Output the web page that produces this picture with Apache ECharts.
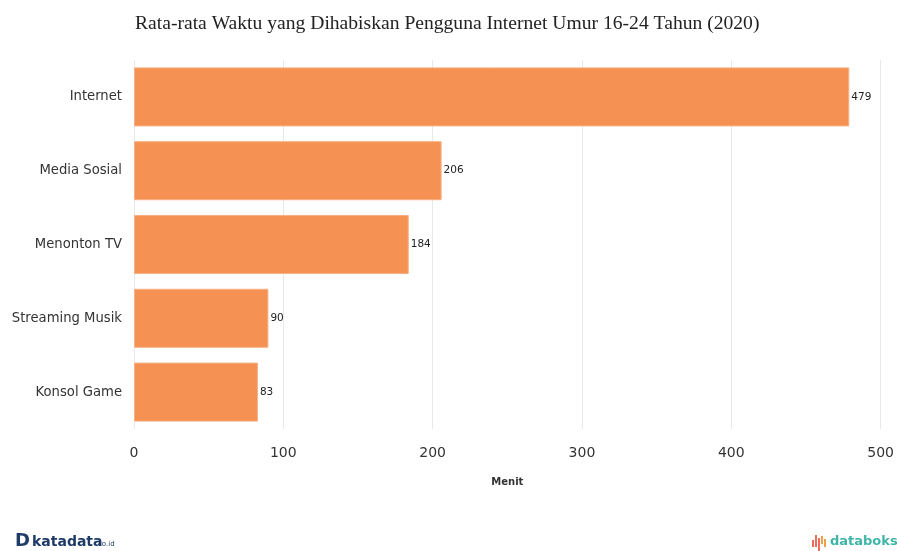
<!DOCTYPE html>
<html><head><meta charset="utf-8">
<script src="https://cdn.jsdelivr.net/npm/echarts@6/dist/echarts.min.js"></script>
<style>html,body{margin:0;padding:0;background:#fff}#c{width:897px;height:551px}</style>
</head><body><div id="c"></div>
<script>
const categories = ["Internet", "Media Sosial", "Menonton TV", "Streaming Musik", "Konsol Game"];
const values = [479, 206, 184, 90, 83];
const xTicks = [0, 100, 200, 300, 400, 500];

const chart = echarts.init(document.getElementById('c'));
chart.setOption({
  animation: false,
  backgroundColor: '#fff',
  title: {
    text: 'Rata-rata Waktu yang Dihabiskan Pengguna Internet Umur 16-24 Tahun (2020)',
    left: 130, top: 9,
    textStyle: { fontFamily: 'Liberation Serif', fontWeight: 'normal', fontSize: 19.6, color: '#222' }
  },
  grid: { left: 134, right: 14, top: 60, bottom: 122, containLabel: false },
  xAxis: {
    type: 'value', min: xTicks[0], max: xTicks[xTicks.length - 1], interval: 100,
    name: 'Menit', nameLocation: 'middle', nameGap: 48,
    nameTextStyle: { fontFamily: 'DejaVu Sans', fontWeight: 'bold', fontSize: 10, color: '#333' },
    axisLine: { show: false }, axisTick: { show: false },
    axisLabel: { fontFamily: 'DejaVu Sans', fontSize: 14, color: '#333', margin: 17 },
    splitLine: { show: true, lineStyle: { color: '#e8e8e8', width: 1 } }
  },
  yAxis: {
    type: 'category', data: categories, inverse: true,
    axisLine: { show: false }, axisTick: { show: false },
    axisLabel: { fontFamily: 'DejaVu Sans', fontSize: 13.2, color: '#333', margin: 12 }
  },
  series: [{
    type: 'bar', data: values, barCategoryGap: '20%',
    itemStyle: { color: '#f59152', borderColor: '#f8b085', borderWidth: 1 },
    label: { show: true, position: 'right', distance: 2, fontFamily: 'DejaVu Sans', fontSize: 10.5, color: '#222' }
  }],
  graphic: [
    { type: 'text', left: 15, top: 532, style: { text: 'D', font: 'bold 18px "DejaVu Sans"', fill: '#1e3a66' } },
    { type: 'text', left: 32, top: 535, style: { text: 'katadata', font: 'bold 14px "DejaVu Sans"', fill: '#1e3a66' } },
    { type: 'text', left: 98, top: 541, style: { text: 'co.id', font: '7px "DejaVu Sans"', fill: '#1e3a66' } },
    { type: 'rect', left: 812, top: 540, shape: { width: 2, height: 7 }, style: { fill: '#ef6b5b' } },
    { type: 'rect', left: 815, top: 535, shape: { width: 2, height: 12 }, style: { fill: '#ef6b5b' } },
    { type: 'rect', left: 818, top: 538, shape: { width: 2, height: 14 }, style: { fill: '#ef6b5b' } },
    { type: 'rect', left: 821, top: 536, shape: { width: 2, height: 8 }, style: { fill: '#f0a04b' } },
    { type: 'rect', left: 824, top: 539, shape: { width: 2, height: 8 }, style: { fill: '#f0a04b' } },
    { type: 'text', left: 830, top: 535, style: { text: 'databoks', font: 'bold 13px "DejaVu Sans"', fill: '#3fb5a8' } }
  ]
});
</script></body></html>
